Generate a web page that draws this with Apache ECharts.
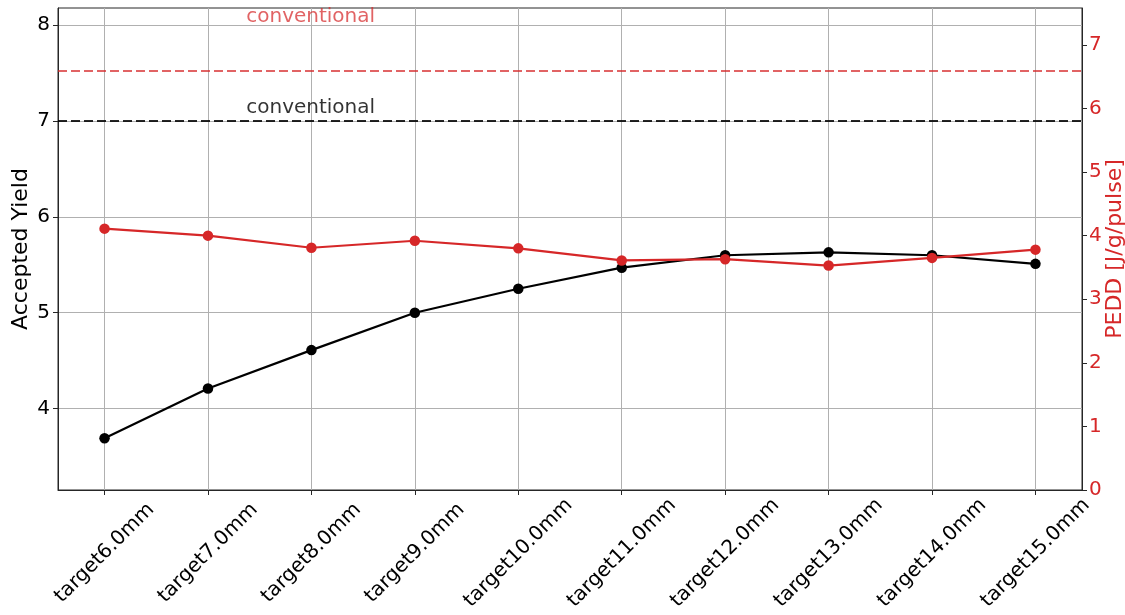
<!DOCTYPE html>
<html>
<head>
<meta charset="utf-8">
<script src="https://cdn.jsdelivr.net/npm/echarts@6/dist/echarts.min.js"></script>
<style>
  html, body { margin: 0; padding: 0; background: #ffffff; }
  #chart { width: 1125px; height: 615px; }
</style>
</head>
<body>
<div id="chart"></div>
<script>
// Target sizes on the category axis
const categories = ['target6.0mm', 'target7.0mm', 'target8.0mm', 'target9.0mm', 'target10.0mm',
                    'target11.0mm', 'target12.0mm', 'target13.0mm', 'target14.0mm', 'target15.0mm'];
// Accepted yield (left axis)
const acceptedYield = [3.69, 4.21, 4.61, 5.00, 5.25, 5.47, 5.60, 5.63, 5.60, 5.51];
// PEDD in J/g/pulse (right axis)
const pedd = [4.11, 4.00, 3.81, 3.92, 3.80, 3.61, 3.63, 3.53, 3.65, 3.78];
// Reference levels of the conventional setup
const conventionalYield = 7.0;
const conventionalPedd = 6.59;
// Tick values
const yieldTicks = [4, 5, 6, 7, 8];
const peddTicks = [0, 1, 2, 3, 4, 5, 6, 7];
const categoryTicks = categories.map((c, i) => i);

const FONT = 'DejaVu Sans';
const RED = '#d62728';
const RED_SOFT = 'rgba(214, 39, 40, 0.72)';
const SPINE = '#262626';
const GRID = '#b0b0b0';
const TICK_FONT = 20;
const NAME_FONT = 22;

const chart = echarts.init(document.getElementById('chart'), null, { renderer: 'canvas' });

const option = {
  animation: false,
  backgroundColor: '#ffffff',
  textStyle: { fontFamily: FONT },
  grid: {
    left: 58, right: 43, top: 8, bottom: 125,
    outerBoundsMode: 'none',
    containLabel: false,
    show: true, borderColor: SPINE, borderWidth: 1, backgroundColor: 'transparent'
  },
  xAxis: {
    type: 'value',
    min: -0.45,
    max: 9.45,
    axisLine: { show: true, onZero: false, lineStyle: { color: SPINE, width: 1 } },
    axisTick: { show: true, length: 5, customValues: categoryTicks, lineStyle: { color: SPINE } },
    axisLabel: {
      customValues: categoryTicks,
      formatter: v => categories[Math.round(v)],
      rotate: 45,
      align: 'center',
      verticalAlign: 'middle',
      margin: 63,
      fontSize: TICK_FONT,
      fontFamily: FONT,
      color: '#000'
    },
    splitLine: { show: true, lineStyle: { color: GRID, width: 1 } }
  },
  yAxis: [
    {
      type: 'value',
      min: 3.15,
      max: 8.18,
      position: 'left',
      name: 'Accepted Yield',
      nameLocation: 'middle',
      nameGap: 26,
      nameMoveOverlap: false,
      nameTextStyle: { fontSize: NAME_FONT, fontFamily: FONT, color: '#000' },
      axisLine: { show: true, onZero: false, lineStyle: { color: SPINE, width: 1 } },
      axisTick: { show: true, length: 5, customValues: yieldTicks, lineStyle: { color: SPINE } },
      axisLabel: { customValues: yieldTicks, fontSize: TICK_FONT, fontFamily: FONT, color: '#000', margin: 8 },
      splitLine: { show: true, lineStyle: { color: GRID, width: 1 } }
    },
    {
      type: 'value',
      min: 0,
      max: 7.58,
      position: 'right',
      name: 'PEDD [J/g/pulse]',
      nameLocation: 'middle',
      nameGap: 22,
      nameMoveOverlap: false,
      nameTextStyle: { fontSize: NAME_FONT, fontFamily: FONT, color: RED },
      axisLine: { show: true, onZero: false, lineStyle: { color: SPINE, width: 1 } },
      axisTick: { show: true, length: 5, customValues: peddTicks, lineStyle: { color: SPINE } },
      axisLabel: { customValues: peddTicks, fontSize: TICK_FONT, fontFamily: FONT, color: RED, margin: 7 },
      splitLine: { show: false }
    }
  ],
  series: [
    {
      name: 'Accepted Yield',
      type: 'line',
      yAxisIndex: 0,
      data: acceptedYield.map((v, i) => [i, v]),
      symbol: 'circle',
      symbolSize: 10.5,
      lineStyle: { color: '#000', width: 2.2 },
      itemStyle: { color: '#000' },
      z: 3,
      markLine: {
        silent: true,
        symbol: 'none',
        label: { show: false },
        lineStyle: { color: 'rgba(0,0,0,0.85)', type: [9, 4], width: 2 },
        data: [{ yAxis: conventionalYield }]
      }
    },
    {
      name: 'PEDD',
      type: 'line',
      yAxisIndex: 1,
      data: pedd.map((v, i) => [i, v]),
      symbol: 'circle',
      symbolSize: 10.5,
      lineStyle: { color: RED, width: 2.2 },
      itemStyle: { color: RED },
      z: 4,
      markLine: {
        silent: true,
        symbol: 'none',
        label: { show: false },
        lineStyle: { color: RED_SOFT, type: [9, 4], width: 2 },
        data: [{ yAxis: conventionalPedd }]
      }
    }
  ]
};

chart.setOption(option);

// "conventional" annotations, anchored in data space of the yield axis
const noteX = 1.37;
const noteYieldLevel = 7.14;
const notePeddLevel = 8.085;
const pBlack = chart.convertToPixel({ xAxisIndex: 0, yAxisIndex: 0 }, [noteX, noteYieldLevel]);
const pRed = chart.convertToPixel({ xAxisIndex: 0, yAxisIndex: 0 }, [noteX, notePeddLevel]);

chart.setOption({
  graphic: [
    {
      type: 'text', x: pBlack[0], y: pBlack[1], z: 10,
      style: { text: 'conventional', font: '20px "DejaVu Sans"', fill: 'rgba(0,0,0,0.8)',
               align: 'left', verticalAlign: 'middle' }
    },
    {
      type: 'text', x: pRed[0], y: pRed[1], z: 10,
      style: { text: 'conventional', font: '20px "DejaVu Sans"', fill: RED_SOFT,
               align: 'left', verticalAlign: 'middle' }
    }
  ]
});
</script>
</body>
</html>
